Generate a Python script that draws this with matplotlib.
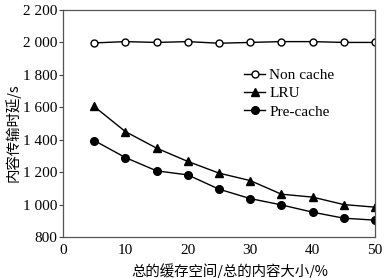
import matplotlib
matplotlib.use("Agg")
import matplotlib.pyplot as plt

# 数据
ratio = [5, 10, 15, 20, 25, 30, 35, 40, 45, 50]
non_cache = [1997, 2005, 2000, 2005, 1995, 2000, 2005, 2005, 2000, 2000]
lru = [1605, 1450, 1348, 1266, 1194, 1148, 1064, 1046, 1000, 984]
pre_cache = [1395, 1290, 1208, 1183, 1095, 1037, 998, 953, 916, 904]

y_ticks = [800, 1000, 1200, 1400, 1600, 1800, 2000, 2200]
x_ticks = [0, 10, 20, 30, 40, 50]

num_font = "Liberation Serif"
cjk_font = ["Noto Sans CJK SC", "DejaVu Sans"]

fig = plt.figure(figsize=(3.89, 2.78), dpi=100)
ax = fig.add_axes([63 / 389, 1 - 237 / 278, (375 - 63) / 389, (237 - 10) / 278])

ax.plot(ratio, non_cache, color="black", lw=1, marker="o", ms=5,
        markerfacecolor="white", markeredgewidth=1, label="Non cache")
ax.plot(ratio, lru, color="black", lw=1, marker="^", ms=6, label="LRU")
ax.plot(ratio, pre_cache, color="black", lw=1, marker="o", ms=5.5, label="Pre-cache")

ax.set_xlim(0, 50)
ax.set_ylim(800, 2200)
ax.set_xticks(x_ticks)
ax.set_yticks(y_ticks)
ax.set_xticklabels([str(v) for v in x_ticks], fontfamily=num_font, fontsize=11)
ax.set_yticklabels([f"{v:,}".replace(",", " ") for v in y_ticks],
                   fontfamily=num_font, fontsize=11)
ax.tick_params(axis="x", length=0, pad=5)
ax.tick_params(axis="y", length=3, direction="out", pad=1, color="#444")

for sp in ax.spines.values():
    sp.set_color("#555")
    sp.set_linewidth(0.9)

ax.set_xlabel("总的缓存空间/总的内容大小/%", fontfamily=cjk_font, fontsize=10.4)
ax.xaxis.set_label_coords(0.535, -0.115)
ax.set_ylabel("内容传输时延/s", fontfamily=cjk_font, fontsize=10.4)
ax.yaxis.set_label_coords(-0.135, 0.46)

leg = ax.legend(loc="upper left", bbox_to_anchor=(0.56, 0.77), frameon=False,
                prop={"family": num_font, "size": 11}, handlelength=1.4,
                handletextpad=0.25, labelspacing=0.3, borderaxespad=0)

fig.savefig("out.png", dpi=100)
